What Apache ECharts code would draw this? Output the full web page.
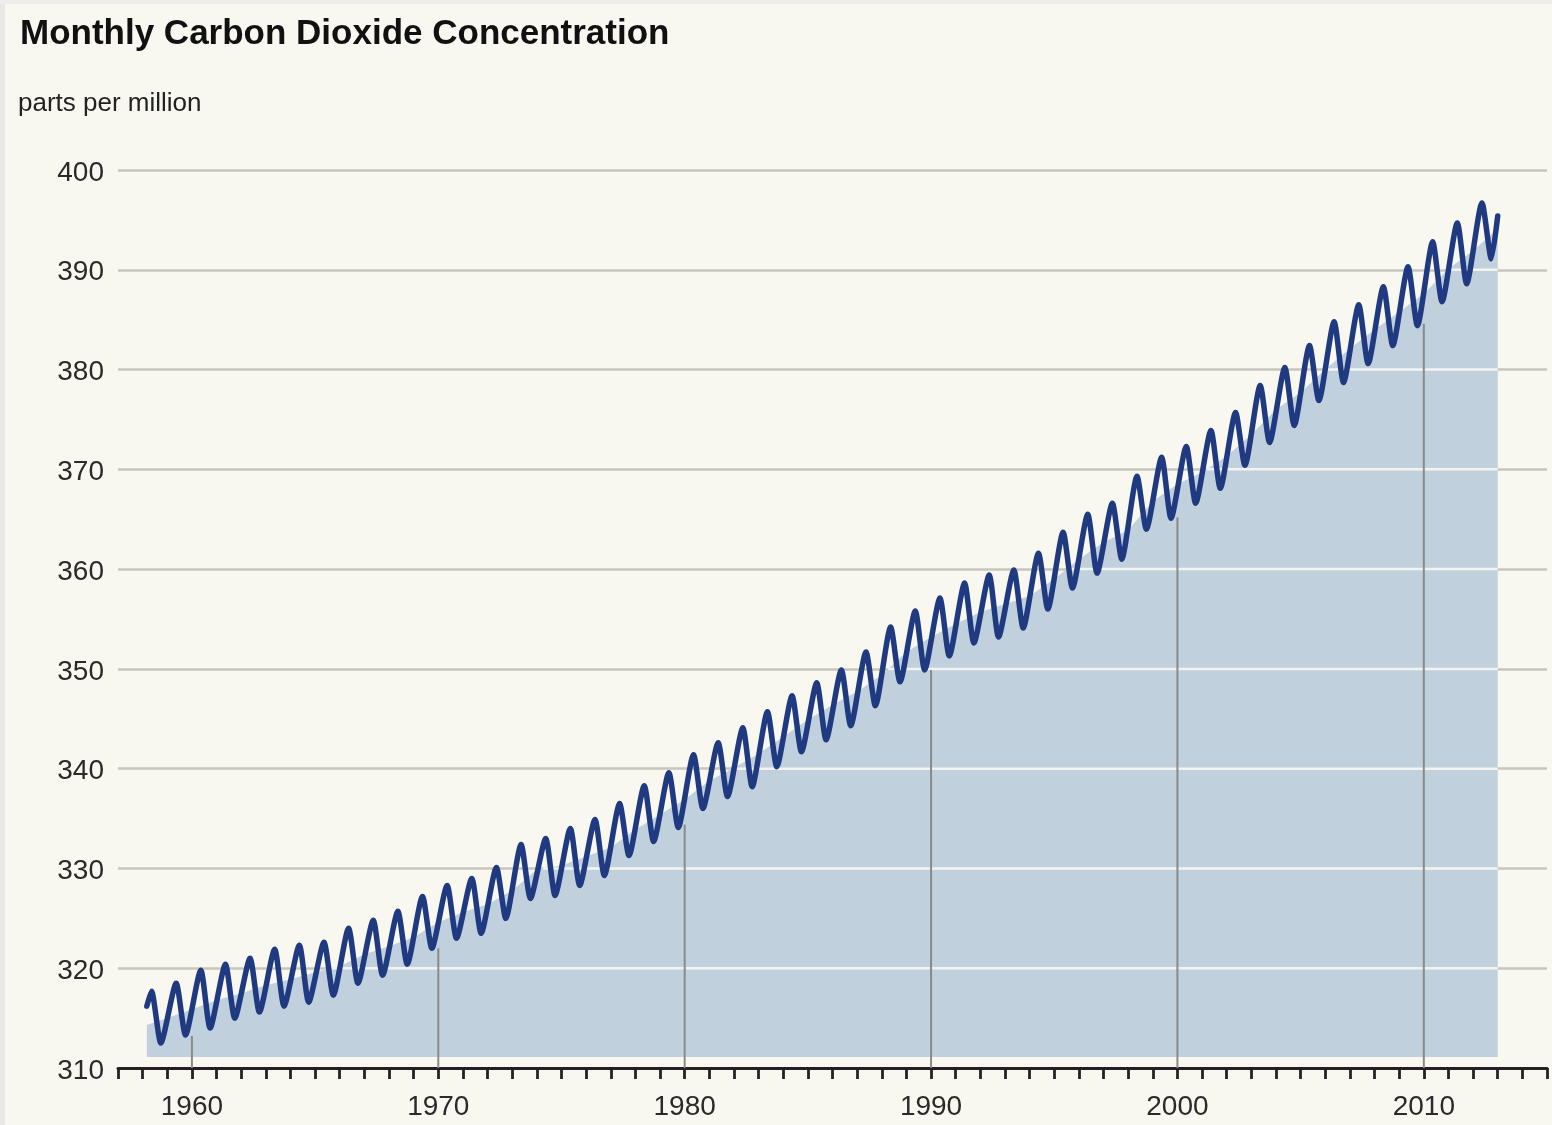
<!DOCTYPE html>
<html>
<head>
<meta charset="utf-8">
<script src="https://cdn.jsdelivr.net/npm/echarts@6/dist/echarts.min.js"></script>
<style>
html,body{margin:0;padding:0;background:#f9f8f0;}
#c{width:1552px;height:1125px;}
</style>
</head>
<body>
<div id="c"></div>
<script>
// ---- DATA ----
const years = [1958,1959,1960,1961,1962,1963,1964,1965,1966,1967,1968,1969,1970,1971,1972,1973,1974,1975,1976,1977,1978,1979,1980,1981,1982,1983,1984,1985,1986,1987,1988,1989,1990,1991,1992,1993,1994,1995,1996,1997,1998,1999,2000,2001,2002,2003,2004,2005,2006,2007,2008,2009,2010,2011,2012];
// yearly spring maximum (ppm)
const peaks = [317.7,318.5,319.8,320.4,321.0,321.9,322.3,322.6,324.0,324.8,325.7,327.2,328.3,329.0,330.1,332.4,333.0,334.0,334.9,336.5,338.3,339.6,341.4,342.6,344.1,345.7,347.3,348.6,349.9,351.7,354.2,355.8,357.1,358.6,359.4,359.9,361.6,363.7,365.5,366.6,369.3,371.2,372.3,373.9,375.7,378.4,380.2,382.4,384.8,386.5,388.3,390.3,392.8,394.7,396.7];
// yearly autumn minimum (ppm)
const troughs = [312.5,313.3,314.0,315.0,315.6,316.2,316.6,317.3,318.5,319.3,320.4,322.0,323.0,323.5,325.0,327.0,327.3,328.3,329.3,331.3,332.7,334.1,336.0,337.2,338.2,340.2,341.7,342.9,344.3,346.3,348.7,349.9,351.3,352.6,353.2,354.1,356.0,358.1,359.6,361.0,364.0,365.1,366.6,368.1,370.4,372.7,374.4,376.9,378.7,380.6,382.4,384.4,386.8,388.6,391.1];
const peakTime = 0.36;    // fraction of year of spring maximum
const troughTime = 0.74;  // fraction of year of autumn minimum
const firstPoint = [1958.17, 316.2];  // March 1958
const lastPoint = [2013.0, 395.4];    // January 2013

// shaded trend area (ppm at start of each year)
const areaTimes = [1958.17,1959,1960,1961,1962,1963,1964,1965,1966,1967,1968,1969,1970,1971,1972,1973,1974,1975,1976,1977,1978,1979,1980,1981,1982,1983,1984,1985,1986,1987,1988,1989,1990,1991,1992,1993,1994,1995,1996,1997,1998,1999,2000,2001,2002,2003,2004,2005,2006,2007,2008,2009,2010,2011,2012,2013];
const areaTop = [314.3,315.0,315.9,316.8,317.5,318.3,318.9,319.6,320.2,321.4,322.2,323.1,324.6,325.6,326.4,327.8,329.9,330.3,331.2,332.1,333.9,335.4,336.9,338.8,340.1,341.5,343.2,344.9,346.4,347.7,349.4,351.7,353.2,354.5,355.7,356.5,357.3,359.0,361.0,362.7,363.9,366.8,368.5,369.7,371.3,373.5,376.0,377.7,380.0,382.1,384.0,385.8,387.6,390.1,391.9,394.1];
const areaBase = 311.1;

// decade reference lines
const decades = [1960,1970,1980,1990,2000,2010];
const decadeTops = [313.2,322.0,334.4,349.9,365.2,384.6];

// axes
const xMin = 1957, xMax = 2015;
const yMin = 310, yMax = 400, yStep = 10;
const gridValues = [320,330,340,350,360,370,380,390,400];

// ---- BUILD ----
const FONT = '"Liberation Sans", Arial, Helvetica, sans-serif';
const curve = [firstPoint];
years.forEach((y, i) => {
  curve.push([y + peakTime, peaks[i]]);
  curve.push([y + troughTime, troughs[i]]);
});
curve.push(lastPoint);

const areaPts = areaTimes.map((t, i) => [t, areaTop[i]]);

function crossTime(v) {
  for (let i = 0; i < areaPts.length; i++) {
    if (areaPts[i][1] >= v) {
      if (i === 0) return areaPts[0][0];
      const a = areaPts[i - 1], b = areaPts[i];
      return a[0] + (v - a[1]) / (b[1] - a[1]) * (b[0] - a[0]);
    }
  }
  return null;
}
const areaEnd = areaPts[areaPts.length - 1][0];

const series = [];
series.push({
  type: 'line', data: areaPts, z: 2, silent: true,
  showSymbol: false, symbol: 'none',
  lineStyle: { width: 0, opacity: 0 },
  areaStyle: { color: '#c0d0dc', opacity: 1, origin: areaBase }
});
gridValues.forEach(v => {
  const t = crossTime(v);
  if (t === null) return;
  series.push({
    type: 'line', data: [[t, v], [areaEnd, v]], z: 3, silent: true,
    symbol: 'none', lineStyle: { color: '#f3f4f1', width: 2.5 }
  });
});
decades.forEach((d, i) => {
  series.push({
    type: 'line', data: [[d, yMin], [d, decadeTops[i]]], z: 4, silent: true,
    symbol: 'none', lineStyle: { color: '#8a8a88', width: 2 }
  });
});
series.push({
  type: 'line', data: curve, z: 5, silent: true,
  symbol: 'none', smooth: 0.22,
  lineStyle: { color: '#1f3a80', width: 5.5, join: 'round', cap: 'round' }
});

const chart = echarts.init(document.getElementById('c'), null, { renderer: 'canvas' });
chart.setOption({
  animation: false,
  backgroundColor: '#f9f8f0',
  title: [
    { text: 'Monthly Carbon Dioxide Concentration', left: 15, top: 12, padding: 5,
      textStyle: { fontFamily: FONT, fontSize: 35, fontWeight: 'bold', color: '#111' } },
    { text: 'parts per million', left: 13, top: 86, padding: 5,
      textStyle: { fontFamily: FONT, fontSize: 26, fontWeight: 'normal', color: '#222' } }
  ],
  graphic: [
    { type: 'rect', left: 0, top: 0, shape: { width: 5, height: 1125 }, style: { fill: '#e8e8e6' }, silent: true },
    { type: 'rect', left: 0, top: 0, shape: { width: 1552, height: 4 }, style: { fill: '#ededeb' }, silent: true }
  ],
  grid: { left: 118, right: 5, top: 170, bottom: 57 },
  xAxis: {
    type: 'value', min: xMin, max: xMax, interval: 1,
    axisLine: { show: true, lineStyle: { color: '#222', width: 3 } },
    axisTick: { show: true, length: 11, inside: false, lineStyle: { color: '#222', width: 2.8 } },
    splitLine: { show: false },
    axisLabel: {
      margin: 25, fontFamily: FONT, fontSize: 28, color: '#2a2a2a',
      formatter: v => (v % 10 === 0 ? String(v) : '')
    }
  },
  yAxis: {
    type: 'value', min: yMin, max: yMax, interval: yStep,
    axisLine: { show: false }, axisTick: { show: false },
    splitLine: { show: true, lineStyle: { color: '#c8c6bc', width: 2.5 } },
    axisLabel: { margin: 14, fontFamily: FONT, fontSize: 28, color: '#2a2a2a',
      verticalAlign: 'top', lineHeight: 6 }
  },
  series: series
});
</script>
</body>
</html>
